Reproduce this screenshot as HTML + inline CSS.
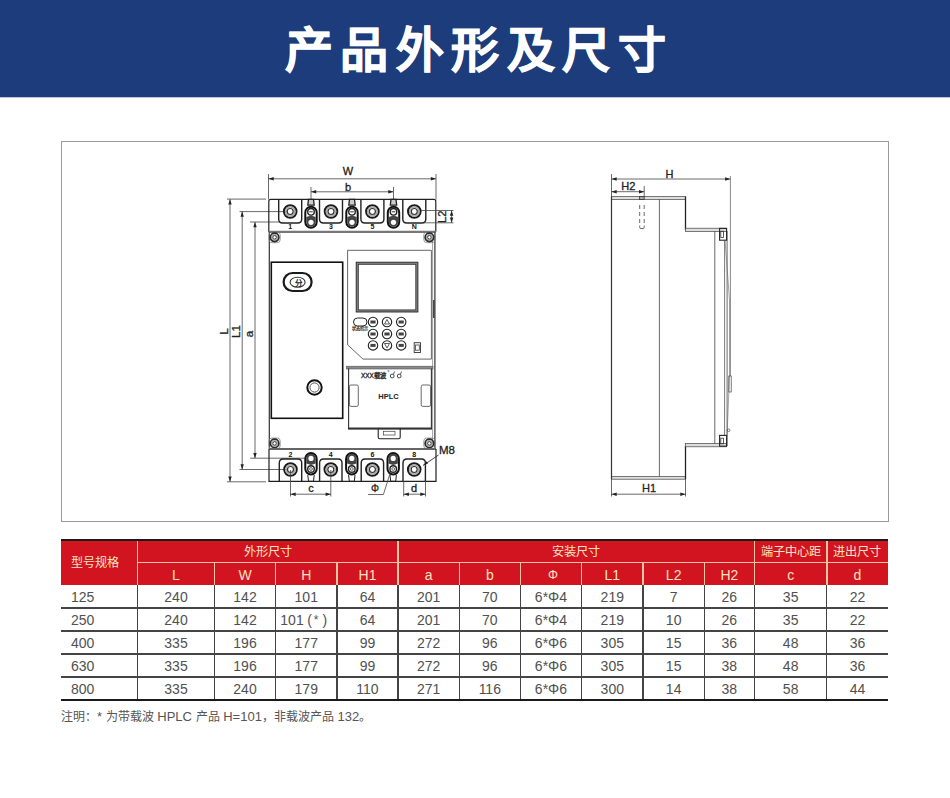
<!DOCTYPE html>
<html lang="zh-CN"><head><meta charset="utf-8"><title>产品外形及尺寸</title>
<style>
html,body{margin:0;padding:0;background:#fff;}
body{width:950px;height:798px;position:relative;overflow:hidden;font-family:"Liberation Sans",sans-serif;}
#hdr{position:absolute;left:0;top:0;width:950px;height:97px;background:#1d3c7b;box-shadow:0 1px 0 rgba(29,60,123,0.3);}
#ttl{position:absolute;left:0;top:2px;width:950px;height:97px;line-height:97px;text-align:center;color:#fff;font-size:48px;font-weight:bold;letter-spacing:7.5px;text-indent:8px;-webkit-text-stroke:0.8px #fff;}
#box{position:absolute;left:61px;top:141px;width:826px;height:379px;border:1px solid #9a9a9a;}
#drw{position:absolute;left:0;top:0;}
.red{position:absolute;background:#d1141f;}
.ht,.hs,.bc{position:absolute;display:flex;align-items:center;justify-content:center;white-space:nowrap;}
.ht{color:#fbe3c2;font-size:12.2px;}
.hs{color:#fbe3c2;font-size:14px;padding-top:1.5px;box-sizing:border-box;}
.ht0{justify-content:flex-start;padding-left:10px;box-sizing:border-box;font-size:12.2px;padding-bottom:1px;}
.bc{color:#505050;font-size:14px;}
.b0{justify-content:flex-start;padding-left:10px;box-sizing:border-box;}
.hl{position:absolute;background:#f5c4a4;}
.bl{position:absolute;background:#444;}
.bk{position:absolute;background:#1a1a1a;}
#note{position:absolute;left:61px;top:707px;font-size:12px;color:#555;white-space:nowrap;}
#note span{font-size:13px;}
</style></head><body>
<div id="hdr"></div><div id="ttl">产品外形及尺寸</div>
<div id="box"></div>
<svg id="drw" width="950" height="798" viewBox="0 0 950 798" font-family="Liberation Sans, sans-serif">
<line x1="268.5" y1="178.8" x2="436" y2="178.8" stroke="#444" stroke-width="0.8"/>
<path d="M268.5 178.8 L273.7 177.10000000000002 L273.7 180.5 Z" fill="#222" stroke="none"/>
<path d="M436 178.8 L430.8 177.10000000000002 L430.8 180.5 Z" fill="#222" stroke="none"/>
<line x1="268.5" y1="174" x2="268.5" y2="199.5" stroke="#444" stroke-width="0.8"/>
<line x1="436" y1="174" x2="436" y2="199.5" stroke="#444" stroke-width="0.8"/>
<text x="348" y="175" font-size="11" text-anchor="middle" font-weight="normal" fill="#222" stroke="#222" stroke-width="0.3">W</text>
<line x1="311" y1="191.8" x2="393.5" y2="191.8" stroke="#444" stroke-width="0.8"/>
<path d="M311 191.8 L316.2 190.10000000000002 L316.2 193.5 Z" fill="#222" stroke="none"/>
<path d="M393.5 191.8 L388.3 190.10000000000002 L388.3 193.5 Z" fill="#222" stroke="none"/>
<line x1="311" y1="187" x2="311" y2="205" stroke="#444" stroke-width="0.8"/>
<line x1="393.5" y1="187" x2="393.5" y2="205" stroke="#444" stroke-width="0.8"/>
<text x="348" y="190.5" font-size="11" text-anchor="middle" font-weight="normal" fill="#222" stroke="#222" stroke-width="0.3">b</text>
<line x1="230" y1="199.3" x2="230" y2="481.8" stroke="#444" stroke-width="0.8"/>
<path d="M230 199.3 L228.3 204.5 L231.7 204.5 Z" fill="#222" stroke="none"/>
<path d="M230 481.8 L228.3 476.6 L231.7 476.6 Z" fill="#222" stroke="none"/>
<line x1="227" y1="199.1" x2="266" y2="199.1" stroke="#444" stroke-width="0.8"/>
<line x1="227" y1="481.8" x2="266" y2="481.8" stroke="#444" stroke-width="0.8"/>
<line x1="242.2" y1="211.5" x2="242.2" y2="469.5" stroke="#444" stroke-width="0.8"/>
<path d="M242.2 211.5 L240.5 216.7 L243.89999999999998 216.7 Z" fill="#222" stroke="none"/>
<path d="M242.2 469.5 L240.5 464.3 L243.89999999999998 464.3 Z" fill="#222" stroke="none"/>
<line x1="239.5" y1="211.6" x2="288" y2="211.6" stroke="#444" stroke-width="0.8"/>
<line x1="239.5" y1="469.5" x2="290" y2="469.5" stroke="#444" stroke-width="0.8"/>
<line x1="255" y1="222" x2="255" y2="458.2" stroke="#444" stroke-width="0.8"/>
<path d="M255 222 L253.3 227.2 L256.7 227.2 Z" fill="#222" stroke="none"/>
<path d="M255 458.2 L253.3 453.0 L256.7 453.0 Z" fill="#222" stroke="none"/>
<line x1="250" y1="222" x2="280" y2="222" stroke="#444" stroke-width="0.8"/>
<line x1="250" y1="458.2" x2="306" y2="458.2" stroke="#444" stroke-width="0.8"/>
<text x="228.3" y="331.5" font-size="11.5" text-anchor="middle" font-weight="normal" fill="#222" stroke="#222" stroke-width="0.3" transform="rotate(-90 228.3 331.5)">L</text>
<text x="240" y="331.5" font-size="11.5" text-anchor="middle" font-weight="normal" fill="#222" stroke="#222" stroke-width="0.3" transform="rotate(-90 240 331.5)">L1</text>
<text x="253.2" y="334" font-size="11.5" text-anchor="middle" font-weight="normal" fill="#222" stroke="#222" stroke-width="0.3" transform="rotate(-90 253.2 334)">a</text>
<path d="M268.8 231.8 L268.8 201.4 Q268.8 199.4 270.8 199.4 L433.8 199.4 Q435.8 199.4 435.8 201.4 L435.8 231.8" stroke="#222" stroke-width="1.2" fill="none"/>
<line x1="268.8" y1="231.8" x2="435.8" y2="231.8" stroke="#777" stroke-width="2.2"/>
<path d="M278.7 199.4 L278.7 219 Q278.7 223 282.7 223 L297.7 223 Q301.7 223 301.7 219 L301.7 199.4" stroke="#222" stroke-width="1.4" fill="none"/>
<circle cx="290.2" cy="211.5" r="6.3" stroke="#1a1a1a" stroke-width="2.0" fill="none"/>
<circle cx="290.2" cy="211.5" r="4.6" stroke="#a8a8a8" stroke-width="1.6" fill="none"/>
<circle cx="290.2" cy="211.5" r="3.0" stroke="#333" stroke-width="1.2" fill="#fff"/>
<path d="M319.5 199.4 L319.5 219 Q319.5 223 323.5 223 L338.5 223 Q342.5 223 342.5 219 L342.5 199.4" stroke="#222" stroke-width="1.4" fill="none"/>
<circle cx="331" cy="211.5" r="6.3" stroke="#1a1a1a" stroke-width="2.0" fill="none"/>
<circle cx="331" cy="211.5" r="4.6" stroke="#a8a8a8" stroke-width="1.6" fill="none"/>
<circle cx="331" cy="211.5" r="3.0" stroke="#333" stroke-width="1.2" fill="#fff"/>
<path d="M360.9 199.4 L360.9 219 Q360.9 223 364.9 223 L379.9 223 Q383.9 223 383.9 219 L383.9 199.4" stroke="#222" stroke-width="1.4" fill="none"/>
<circle cx="372.4" cy="211.5" r="6.3" stroke="#1a1a1a" stroke-width="2.0" fill="none"/>
<circle cx="372.4" cy="211.5" r="4.6" stroke="#a8a8a8" stroke-width="1.6" fill="none"/>
<circle cx="372.4" cy="211.5" r="3.0" stroke="#333" stroke-width="1.2" fill="#fff"/>
<path d="M402.8 199.4 L402.8 219 Q402.8 223 406.8 223 L421.8 223 Q425.8 223 425.8 219 L425.8 199.4" stroke="#222" stroke-width="1.4" fill="none"/>
<circle cx="414.3" cy="211.5" r="6.3" stroke="#1a1a1a" stroke-width="2.0" fill="none"/>
<circle cx="414.3" cy="211.5" r="4.6" stroke="#a8a8a8" stroke-width="1.6" fill="none"/>
<circle cx="414.3" cy="211.5" r="3.0" stroke="#333" stroke-width="1.2" fill="#fff"/>
<rect x="305.3" y="206.7" width="11.40" height="21.10" rx="5.7" stroke="#111" stroke-width="2.0" fill="none"/>
<path d="M306.3 217 L311 215.5 L315.7 217 L315.7 222.1 A4.7 4.7 0 0 1 306.3 222.1 Z" stroke="none" stroke-width="0" fill="#444"/>
<circle cx="311" cy="211.8" r="3.3" stroke="#222" stroke-width="1.4" fill="#fff"/>
<line x1="309.2" y1="211.8" x2="312.8" y2="211.8" stroke="#333" stroke-width="1"/>
<circle cx="311" cy="222.3" r="2.6" stroke="none" stroke-width="0" fill="#fff"/>
<path d="M307.8 205.2 L308.5 199.4 L313.5 199.4 L314.2 205.2 Z" stroke="#222" stroke-width="1.3" fill="#ccc"/>
<rect x="346.3" y="206.7" width="11.40" height="21.10" rx="5.7" stroke="#111" stroke-width="2.0" fill="none"/>
<path d="M347.3 217 L352 215.5 L356.7 217 L356.7 222.1 A4.7 4.7 0 0 1 347.3 222.1 Z" stroke="none" stroke-width="0" fill="#444"/>
<circle cx="352" cy="211.8" r="3.3" stroke="#222" stroke-width="1.4" fill="#fff"/>
<line x1="350.2" y1="211.8" x2="353.8" y2="211.8" stroke="#333" stroke-width="1"/>
<circle cx="352" cy="222.3" r="2.6" stroke="none" stroke-width="0" fill="#fff"/>
<path d="M348.8 205.2 L349.5 199.4 L354.5 199.4 L355.2 205.2 Z" stroke="#222" stroke-width="1.3" fill="#ccc"/>
<rect x="387.8" y="206.7" width="11.40" height="21.10" rx="5.7" stroke="#111" stroke-width="2.0" fill="none"/>
<path d="M388.8 217 L393.5 215.5 L398.2 217 L398.2 222.1 A4.7 4.7 0 0 1 388.8 222.1 Z" stroke="none" stroke-width="0" fill="#444"/>
<circle cx="393.5" cy="211.8" r="3.3" stroke="#222" stroke-width="1.4" fill="#fff"/>
<line x1="391.7" y1="211.8" x2="395.3" y2="211.8" stroke="#333" stroke-width="1"/>
<circle cx="393.5" cy="222.3" r="2.6" stroke="none" stroke-width="0" fill="#fff"/>
<path d="M390.3 205.2 L391.0 199.4 L396.0 199.4 L396.7 205.2 Z" stroke="#222" stroke-width="1.3" fill="#ccc"/>
<text x="290.2" y="229.2" font-size="7" text-anchor="middle" font-weight="bold" fill="#111" stroke="none">1</text>
<text x="331" y="229.2" font-size="7" text-anchor="middle" font-weight="bold" fill="#111" stroke="none">3</text>
<text x="372.4" y="229.2" font-size="7" text-anchor="middle" font-weight="bold" fill="#111" stroke="none">5</text>
<text x="414.3" y="229.2" font-size="7" text-anchor="middle" font-weight="bold" fill="#111" stroke="none">N</text>
<line x1="421" y1="210.5" x2="453.5" y2="210.5" stroke="#444" stroke-width="0.8"/>
<line x1="424" y1="222.8" x2="453.5" y2="222.8" stroke="#444" stroke-width="0.8"/>
<line x1="451.6" y1="210.5" x2="451.6" y2="222.8" stroke="#444" stroke-width="0.8"/>
<path d="M451.6 210.5 L449.90000000000003 215.7 L453.3 215.7 Z" fill="#222" stroke="none"/>
<path d="M451.6 222.8 L449.90000000000003 217.60000000000002 L453.3 217.60000000000002 Z" fill="#222" stroke="none"/>
<text x="446.3" y="216.8" font-size="11" text-anchor="middle" font-weight="normal" fill="#222" stroke="#222" stroke-width="0.3" transform="rotate(-90 446.3 216.8)">L2</text>
<line x1="269.3" y1="231.8" x2="269.3" y2="449" stroke="#333" stroke-width="1.2"/>
<line x1="434.9" y1="231.8" x2="434.9" y2="449" stroke="#333" stroke-width="1.2"/>
<line x1="432.6" y1="238" x2="432.6" y2="444" stroke="#777" stroke-width="0.7"/>
<line x1="433.8" y1="300" x2="433.8" y2="318" stroke="#333" stroke-width="1.4"/>
<rect x="269.0" y="231.9" width="11.20" height="10.80" rx="3" stroke="#777" stroke-width="0.7" fill="none"/>
<circle cx="274.6" cy="237.3" r="4.2" stroke="#2a2a2a" stroke-width="1.8" fill="none"/>
<circle cx="274.6" cy="237.3" r="2.9" stroke="#999" stroke-width="1.0" fill="none"/>
<circle cx="274.6" cy="237.3" r="1.8" stroke="#333" stroke-width="1.0" fill="none"/>
<rect x="423.79999999999995" y="231.9" width="11.20" height="10.80" rx="3" stroke="#777" stroke-width="0.7" fill="none"/>
<circle cx="429.4" cy="237.3" r="4.2" stroke="#2a2a2a" stroke-width="1.8" fill="none"/>
<circle cx="429.4" cy="237.3" r="2.9" stroke="#999" stroke-width="1.0" fill="none"/>
<circle cx="429.4" cy="237.3" r="1.8" stroke="#333" stroke-width="1.0" fill="none"/>
<rect x="269.0" y="438.0" width="11.20" height="10.80" rx="3" stroke="#777" stroke-width="0.7" fill="none"/>
<circle cx="274.6" cy="443.4" r="4.2" stroke="#2a2a2a" stroke-width="1.8" fill="none"/>
<circle cx="274.6" cy="443.4" r="2.9" stroke="#999" stroke-width="1.0" fill="none"/>
<circle cx="274.6" cy="443.4" r="1.8" stroke="#333" stroke-width="1.0" fill="none"/>
<rect x="423.79999999999995" y="438.0" width="11.20" height="10.80" rx="3" stroke="#777" stroke-width="0.7" fill="none"/>
<circle cx="429.4" cy="443.4" r="4.2" stroke="#2a2a2a" stroke-width="1.8" fill="none"/>
<circle cx="429.4" cy="443.4" r="2.9" stroke="#999" stroke-width="1.0" fill="none"/>
<circle cx="429.4" cy="443.4" r="1.8" stroke="#333" stroke-width="1.0" fill="none"/>
<rect x="271.3" y="262.2" width="71.40" height="156.10" rx="0" stroke="#111" stroke-width="1.6" fill="none"/>
<rect x="283.6" y="273" width="28.00" height="18.00" rx="9" stroke="#1a1a1a" stroke-width="2.2" fill="none"/>
<ellipse cx="297.6" cy="282.2" rx="7.5" ry="5" stroke="#333" stroke-width="1.1" fill="none"/>
<text x="298" y="285.5" font-size="7.5" text-anchor="middle" font-weight="bold" fill="#222" stroke="none">分</text>
<circle cx="314.5" cy="387.5" r="7.2" stroke="#111" stroke-width="2.0" fill="none"/>
<circle cx="314.5" cy="387.5" r="4.6" stroke="#555" stroke-width="1.0" fill="none"/>
<path d="M347.6 250.3 L431.4 250.3 L431.4 359.1 L363 359.1 L347.6 344.8 Z" stroke="#555" stroke-width="0.9" fill="none"/>
<rect x="357.2" y="263.2" width="59.70" height="47.80" rx="0" stroke="#888" stroke-width="2.0" fill="none"/>
<rect x="356.2" y="262.2" width="61.70" height="49.80" rx="0" stroke="#222" stroke-width="0.9" fill="none"/>
<rect x="358.3" y="264.3" width="57.50" height="45.60" rx="0" stroke="#333" stroke-width="0.9" fill="none"/>
<rect x="353.5" y="318" width="13.50" height="8.00" rx="4" stroke="#222" stroke-width="1.0" fill="none"/>
<text x="360.2" y="330.3" font-size="4.2" text-anchor="middle" font-weight="bold" fill="#222" stroke="none">状态指示</text>
<circle cx="373" cy="322" r="4.7" stroke="#222" stroke-width="1.1" fill="none"/>
<circle cx="387" cy="322" r="4.7" stroke="#222" stroke-width="1.1" fill="none"/>
<circle cx="401.2" cy="322" r="4.7" stroke="#222" stroke-width="1.1" fill="none"/>
<circle cx="373" cy="334" r="4.7" stroke="#222" stroke-width="1.1" fill="none"/>
<circle cx="387" cy="334" r="4.7" stroke="#222" stroke-width="1.1" fill="none"/>
<circle cx="401.2" cy="334" r="4.7" stroke="#222" stroke-width="1.1" fill="none"/>
<circle cx="373" cy="345.4" r="4.7" stroke="#222" stroke-width="1.1" fill="none"/>
<circle cx="387" cy="345.4" r="4.7" stroke="#222" stroke-width="1.1" fill="none"/>
<circle cx="401.2" cy="345.4" r="4.7" stroke="#222" stroke-width="1.1" fill="none"/>
<rect x="370.4" y="320.5" width="5.20" height="3.00" rx="0" stroke="none" stroke-width="0" fill="#444"/>
<rect x="398.59999999999997" y="320.5" width="5.20" height="3.00" rx="0" stroke="none" stroke-width="0" fill="#444"/>
<rect x="370.4" y="332.5" width="5.20" height="3.00" rx="0" stroke="none" stroke-width="0" fill="#444"/>
<rect x="384.4" y="332.5" width="5.20" height="3.00" rx="0" stroke="none" stroke-width="0" fill="#444"/>
<rect x="398.59999999999997" y="332.5" width="5.20" height="3.00" rx="0" stroke="none" stroke-width="0" fill="#444"/>
<rect x="370.4" y="343.9" width="5.20" height="3.00" rx="0" stroke="none" stroke-width="0" fill="#444"/>
<rect x="398.59999999999997" y="343.9" width="5.20" height="3.00" rx="0" stroke="none" stroke-width="0" fill="#444"/>
<path d="M384.5 324 L387 319.5 L389.5 324 Z" stroke="#333" stroke-width="0.8" fill="none"/>
<path d="M384.5 343.5 L387 348 L389.5 343.5 Z" stroke="#333" stroke-width="0.8" fill="none"/>
<rect x="414.2" y="342.7" width="6.30" height="9.80" rx="0" stroke="#333" stroke-width="0.9" fill="none"/>
<rect x="415.4" y="345" width="3.90" height="5.20" rx="0" stroke="#444" stroke-width="0.8" fill="none"/>
<rect x="346.5" y="366.2" width="86.50" height="2.80" rx="0" stroke="#555" stroke-width="0.6" fill="#8a8a8a"/>
<path d="M348.6 368.6 L348.6 428.8 L431.4 428.8 L431.4 368.6" stroke="#333" stroke-width="1.1" fill="none"/>
<line x1="348" y1="428.5" x2="432" y2="428.5" stroke="#333" stroke-width="2"/>
<text x="361" y="378.2" font-size="6.4" text-anchor="start" fill="#222" stroke="#222" stroke-width="0.3">XXX载波</text>
<text x="387.2" y="373.5" font-size="6" text-anchor="start" font-weight="normal" fill="#222" stroke="none">°</text>
<circle cx="392.2" cy="376" r="1.9" stroke="#333" stroke-width="0.9" fill="none"/>
<line x1="393.4" y1="374.5" x2="394.5" y2="371.5" stroke="#333" stroke-width="0.8"/>
<circle cx="399.2" cy="376" r="1.9" stroke="#333" stroke-width="0.9" fill="none"/>
<line x1="400.4" y1="374.5" x2="401.5" y2="371.5" stroke="#333" stroke-width="0.8"/>
<text x="388.5" y="398.5" font-size="7.5" text-anchor="middle" font-weight="bold" fill="#222" stroke="none">HPLC</text>
<rect x="349.4" y="385" width="8.90" height="21.40" rx="1.5" stroke="#444" stroke-width="0.8" fill="none"/>
<rect x="421.2" y="385" width="9.40" height="21.40" rx="1.5" stroke="#444" stroke-width="0.8" fill="none"/>
<path d="M378.2 428.8 L378.2 437.2 Q378.2 438.7 379.7 438.7 L398.7 438.7 Q400.2 438.7 400.2 437.2 L400.2 428.8" stroke="#222" stroke-width="1.1" fill="none"/>
<rect x="383.5" y="431.3" width="11.50" height="3.70" rx="0" stroke="#444" stroke-width="0.7" fill="none"/>
<line x1="269" y1="449" x2="436" y2="449" stroke="#666" stroke-width="1.8"/>
<path d="M269 449 L269 481.3 L436 481.3 L436 449" stroke="#222" stroke-width="1.2" fill="none"/>
<path d="M279.3 481.3 L279.3 463 Q279.3 459 283.3 459 L297.7 459 Q301.7 459 301.7 463 L301.7 481.3" stroke="#222" stroke-width="1.4" fill="none"/>
<circle cx="290.5" cy="469.5" r="6.3" stroke="#1a1a1a" stroke-width="2.0" fill="none"/>
<circle cx="290.5" cy="469.5" r="4.6" stroke="#a8a8a8" stroke-width="1.6" fill="none"/>
<circle cx="290.5" cy="469.5" r="3.0" stroke="#333" stroke-width="1.2" fill="#fff"/>
<path d="M319.6 481.3 L319.6 463 Q319.6 459 323.6 459 L338.0 459 Q342.0 459 342.0 463 L342.0 481.3" stroke="#222" stroke-width="1.4" fill="none"/>
<circle cx="330.8" cy="469.5" r="6.3" stroke="#1a1a1a" stroke-width="2.0" fill="none"/>
<circle cx="330.8" cy="469.5" r="4.6" stroke="#a8a8a8" stroke-width="1.6" fill="none"/>
<circle cx="330.8" cy="469.5" r="3.0" stroke="#333" stroke-width="1.2" fill="#fff"/>
<path d="M361.2 481.3 L361.2 463 Q361.2 459 365.2 459 L379.59999999999997 459 Q383.59999999999997 459 383.59999999999997 463 L383.59999999999997 481.3" stroke="#222" stroke-width="1.4" fill="none"/>
<circle cx="372.4" cy="469.5" r="6.3" stroke="#1a1a1a" stroke-width="2.0" fill="none"/>
<circle cx="372.4" cy="469.5" r="4.6" stroke="#a8a8a8" stroke-width="1.6" fill="none"/>
<circle cx="372.4" cy="469.5" r="3.0" stroke="#333" stroke-width="1.2" fill="#fff"/>
<path d="M403.0 481.3 L403.0 463 Q403.0 459 407.0 459 L421.4 459 Q425.4 459 425.4 463 L425.4 481.3" stroke="#222" stroke-width="1.4" fill="none"/>
<circle cx="414.2" cy="469.5" r="6.3" stroke="#1a1a1a" stroke-width="2.0" fill="none"/>
<circle cx="414.2" cy="469.5" r="4.6" stroke="#a8a8a8" stroke-width="1.6" fill="none"/>
<circle cx="414.2" cy="469.5" r="3.0" stroke="#333" stroke-width="1.2" fill="#fff"/>
<rect x="305.3" y="453" width="11.40" height="21.50" rx="5.7" stroke="#111" stroke-width="2.0" fill="none"/>
<path d="M306.3 463.5 L311 465 L315.7 463.5 L315.7 458.5 A4.7 4.7 0 0 0 306.3 458.5 Z" stroke="none" stroke-width="0" fill="#444"/>
<circle cx="311" cy="458.4" r="2.6" stroke="none" stroke-width="0" fill="#fff"/>
<circle cx="311" cy="469" r="3.3" stroke="#222" stroke-width="1.4" fill="#fff"/>
<circle cx="311" cy="469" r="1.4" stroke="#444" stroke-width="0.8" fill="none"/>
<path d="M307.8 475 L308.5 481.3 L313.5 481.3 L314.2 475" stroke="#222" stroke-width="1" fill="none"/>
<rect x="346.1" y="453" width="11.40" height="21.50" rx="5.7" stroke="#111" stroke-width="2.0" fill="none"/>
<path d="M347.1 463.5 L351.8 465 L356.5 463.5 L356.5 458.5 A4.7 4.7 0 0 0 347.1 458.5 Z" stroke="none" stroke-width="0" fill="#444"/>
<circle cx="351.8" cy="458.4" r="2.6" stroke="none" stroke-width="0" fill="#fff"/>
<circle cx="351.8" cy="469" r="3.3" stroke="#222" stroke-width="1.4" fill="#fff"/>
<circle cx="351.8" cy="469" r="1.4" stroke="#444" stroke-width="0.8" fill="none"/>
<path d="M348.6 475 L349.3 481.3 L354.3 481.3 L355.0 475" stroke="#222" stroke-width="1" fill="none"/>
<rect x="387.5" y="453" width="11.40" height="21.50" rx="5.7" stroke="#111" stroke-width="2.0" fill="none"/>
<path d="M388.5 463.5 L393.2 465 L397.9 463.5 L397.9 458.5 A4.7 4.7 0 0 0 388.5 458.5 Z" stroke="none" stroke-width="0" fill="#444"/>
<circle cx="393.2" cy="458.4" r="2.6" stroke="none" stroke-width="0" fill="#fff"/>
<circle cx="393.2" cy="469" r="3.3" stroke="#222" stroke-width="1.4" fill="#fff"/>
<circle cx="393.2" cy="469" r="1.4" stroke="#444" stroke-width="0.8" fill="none"/>
<path d="M390.0 475 L390.7 481.3 L395.7 481.3 L396.4 475" stroke="#222" stroke-width="1" fill="none"/>
<text x="290.5" y="457" font-size="7" text-anchor="middle" font-weight="bold" fill="#111" stroke="none">2</text>
<text x="330.8" y="457" font-size="7" text-anchor="middle" font-weight="bold" fill="#111" stroke="none">4</text>
<text x="372.4" y="457" font-size="7" text-anchor="middle" font-weight="bold" fill="#111" stroke="none">6</text>
<text x="414.2" y="457" font-size="7" text-anchor="middle" font-weight="bold" fill="#111" stroke="none">8</text>
<line x1="290.5" y1="494.2" x2="330.8" y2="494.2" stroke="#444" stroke-width="0.8"/>
<path d="M290.5 494.2 L295.7 492.5 L295.7 495.9 Z" fill="#222" stroke="none"/>
<path d="M330.8 494.2 L325.6 492.5 L325.6 495.9 Z" fill="#222" stroke="none"/>
<line x1="290.5" y1="470" x2="290.5" y2="496.5" stroke="#444" stroke-width="0.8"/>
<line x1="330.8" y1="470" x2="330.8" y2="496.5" stroke="#444" stroke-width="0.8"/>
<text x="311" y="492" font-size="11" text-anchor="middle" font-weight="normal" fill="#222" stroke="#222" stroke-width="0.3">c</text>
<line x1="403.7" y1="494.2" x2="425.5" y2="494.2" stroke="#444" stroke-width="0.8"/>
<path d="M403.7 494.2 L408.9 492.5 L408.9 495.9 Z" fill="#222" stroke="none"/>
<path d="M425.5 494.2 L420.3 492.5 L420.3 495.9 Z" fill="#222" stroke="none"/>
<line x1="403.7" y1="481" x2="403.7" y2="496.5" stroke="#444" stroke-width="0.8"/>
<line x1="425.5" y1="481" x2="425.5" y2="496.5" stroke="#444" stroke-width="0.8"/>
<text x="414" y="491.5" font-size="11" text-anchor="middle" font-weight="normal" fill="#222" stroke="#222" stroke-width="0.3">d</text>
<line x1="368" y1="494.5" x2="383.4" y2="494.5" stroke="#444" stroke-width="0.8"/>
<line x1="383.4" y1="494.5" x2="390.5" y2="472" stroke="#444" stroke-width="0.8"/>
<text x="375" y="492" font-size="10" text-anchor="middle" font-weight="normal" fill="#222" stroke="#222" stroke-width="0.3">Φ</text>
<line x1="438.5" y1="455" x2="423" y2="465.5" stroke="#333" stroke-width="0.9"/>
<path d="M423 465.5 L426.5 461.2 L428 463.5 Z" fill="#222"/>
<text x="447" y="454" font-size="11.5" text-anchor="middle" font-weight="normal" fill="#222" stroke="#222" stroke-width="0.3">M8</text>
<line x1="611.5" y1="179" x2="730.3" y2="179" stroke="#444" stroke-width="0.8"/>
<path d="M611.5 179 L616.7 177.3 L616.7 180.7 Z" fill="#222" stroke="none"/>
<path d="M730.3 179 L725.0999999999999 177.3 L725.0999999999999 180.7 Z" fill="#222" stroke="none"/>
<line x1="611.5" y1="174" x2="611.5" y2="197" stroke="#444" stroke-width="0.8"/>
<line x1="730.4" y1="176" x2="730.4" y2="376" stroke="#555" stroke-width="0.7"/>
<text x="669.5" y="178" font-size="11" text-anchor="middle" font-weight="normal" fill="#222" stroke="#222" stroke-width="0.3">H</text>
<line x1="611.5" y1="191.7" x2="644.2" y2="191.7" stroke="#444" stroke-width="0.8"/>
<path d="M611.5 191.7 L616.7 190.0 L616.7 193.39999999999998 Z" fill="#222" stroke="none"/>
<path d="M644.2 191.7 L639.0 190.0 L639.0 193.39999999999998 Z" fill="#222" stroke="none"/>
<line x1="644.2" y1="186" x2="644.2" y2="197" stroke="#444" stroke-width="0.8"/>
<text x="628.4" y="189.6" font-size="11" text-anchor="middle" font-weight="normal" fill="#222" stroke="#222" stroke-width="0.3">H2</text>
<rect x="611.5" y="196.6" width="74.00" height="2.80" rx="0" stroke="#444" stroke-width="0.7" fill="#ddd"/>
<rect x="611.5" y="476.4" width="74.00" height="2.80" rx="0" stroke="#444" stroke-width="0.7" fill="#ddd"/>
<line x1="611.5" y1="196.6" x2="611.5" y2="479.2" stroke="#333" stroke-width="1.2"/>
<line x1="659.4" y1="199.4" x2="659.4" y2="476.4" stroke="#444" stroke-width="0.8"/>
<line x1="685.5" y1="196.6" x2="685.5" y2="230.2" stroke="#222" stroke-width="1.3"/>
<line x1="685.5" y1="445.8" x2="685.5" y2="479.2" stroke="#222" stroke-width="1.3"/>
<rect x="685.5" y="228.2" width="41.10" height="3.20" rx="0" stroke="#444" stroke-width="0.7" fill="#ddd"/>
<rect x="685.5" y="443.6" width="41.10" height="3.20" rx="0" stroke="#444" stroke-width="0.7" fill="#ddd"/>
<line x1="714.8" y1="231.4" x2="714.8" y2="443.6" stroke="#444" stroke-width="0.8"/>
<line x1="724.6" y1="240" x2="724.6" y2="436" stroke="#555" stroke-width="0.8"/>
<line x1="727.1" y1="231" x2="727.1" y2="446" stroke="#444" stroke-width="0.8"/>
<rect x="719.6" y="228.4" width="7.00" height="11.80" rx="0" stroke="#222" stroke-width="1.1" fill="none"/>
<rect x="720.8" y="231.2" width="2.70" height="6.30" rx="0" stroke="#333" stroke-width="0.8" fill="none"/>
<rect x="719.6" y="435.4" width="7.00" height="10.80" rx="0" stroke="#222" stroke-width="1.1" fill="none"/>
<rect x="720.8" y="438.2" width="2.70" height="5.60" rx="0" stroke="#333" stroke-width="0.8" fill="none"/>
<path d="M725 240 L729.5 300 L729.5 376 L727 436" stroke="#666" stroke-width="0.6" fill="none"/>
<rect x="728.8" y="376" width="2.40" height="16.00" rx="0" stroke="#444" stroke-width="0.7" fill="none"/>
<circle cx="728.6" cy="430.3" r="1.3" stroke="#444" stroke-width="0.7" fill="none"/>
<rect x="639.5" y="196.4" width="4.70" height="3.20" rx="0" stroke="#333" stroke-width="0.8" fill="#aaa"/>
<line x1="639.7" y1="205" x2="639.7" y2="209" stroke="#444" stroke-width="0.8"/>
<line x1="644.2" y1="205" x2="644.2" y2="209" stroke="#444" stroke-width="0.8"/>
<line x1="639.7" y1="212" x2="639.7" y2="216" stroke="#444" stroke-width="0.8"/>
<line x1="644.2" y1="212" x2="644.2" y2="216" stroke="#444" stroke-width="0.8"/>
<line x1="639.7" y1="219" x2="639.7" y2="223" stroke="#444" stroke-width="0.8"/>
<line x1="644.2" y1="219" x2="644.2" y2="223" stroke="#444" stroke-width="0.8"/>
<path d="M639.7 225.5 L639.7 227.5 Q639.7 228.5 641 228.5 L643 228.5 Q644.2 228.5 644.2 227.5 L644.2 225.5" stroke="#444" stroke-width="0.8" fill="none"/>
<line x1="611.5" y1="494.2" x2="685.5" y2="494.2" stroke="#444" stroke-width="0.8"/>
<path d="M611.5 494.2 L616.7 492.5 L616.7 495.9 Z" fill="#222" stroke="none"/>
<path d="M685.5 494.2 L680.3 492.5 L680.3 495.9 Z" fill="#222" stroke="none"/>
<line x1="611.5" y1="479" x2="611.5" y2="496.5" stroke="#444" stroke-width="0.8"/>
<line x1="685.5" y1="479" x2="685.5" y2="496.5" stroke="#444" stroke-width="0.8"/>
<text x="649" y="491.5" font-size="11" text-anchor="middle" font-weight="normal" fill="#222" stroke="#222" stroke-width="0.3">H1</text>
</svg>
<div class="red" style="left:61px;top:540px;width:827px;height:45px"></div>
<div class="ht" style="left:137.5px;top:540.0px;width:260.5px;height:22.5px">外形尺寸</div>
<div class="ht" style="left:398.0px;top:540.0px;width:356.4px;height:22.5px">安装尺寸</div>
<div class="ht" style="left:754.4px;top:540.0px;width:72.5px;height:22.5px">端子中心距</div>
<div class="ht" style="left:826.9px;top:540.0px;width:61.1px;height:22.5px">进出尺寸</div>
<div class="ht ht0" style="left:61.0px;top:540.0px;width:76.5px;height:45.0px">型号规格</div>
<div class="hs" style="left:137.5px;top:562.5px;width:77.0px;height:22.5px">L</div>
<div class="hs" style="left:214.5px;top:562.5px;width:61.0px;height:22.5px">W</div>
<div class="hs" style="left:275.5px;top:562.5px;width:61.5px;height:22.5px">H</div>
<div class="hs" style="left:337.0px;top:562.5px;width:61.0px;height:22.5px">H1</div>
<div class="hs" style="left:398.0px;top:562.5px;width:61.3px;height:22.5px">a</div>
<div class="hs" style="left:459.3px;top:562.5px;width:61.0px;height:22.5px">b</div>
<div class="hs" style="left:520.3px;top:562.5px;width:61.3px;height:22.5px"><span style="font-size:12.5px;position:relative;left:2px">Φ</span></div>
<div class="hs" style="left:581.6px;top:562.5px;width:61.4px;height:22.5px">L1</div>
<div class="hs" style="left:643.0px;top:562.5px;width:61.3px;height:22.5px">L2</div>
<div class="hs" style="left:704.3px;top:562.5px;width:50.1px;height:22.5px">H2</div>
<div class="hs" style="left:754.4px;top:562.5px;width:72.5px;height:22.5px">c</div>
<div class="hs" style="left:826.9px;top:562.5px;width:61.1px;height:22.5px">d</div>
<div class="hl" style="left:137.5px;top:561.8px;width:750.5px;height:1.3px"></div>
<div class="hl" style="left:136.9px;top:540px;width:1.3px;height:45.0px"></div>
<div class="hl" style="left:213.9px;top:562.5px;width:1.3px;height:22.5px"></div>
<div class="hl" style="left:274.9px;top:562.5px;width:1.3px;height:22.5px"></div>
<div class="hl" style="left:336.4px;top:562.5px;width:1.3px;height:22.5px"></div>
<div class="hl" style="left:397.4px;top:540px;width:1.3px;height:45.0px"></div>
<div class="hl" style="left:458.7px;top:562.5px;width:1.3px;height:22.5px"></div>
<div class="hl" style="left:519.7px;top:562.5px;width:1.3px;height:22.5px"></div>
<div class="hl" style="left:581.0px;top:562.5px;width:1.3px;height:22.5px"></div>
<div class="hl" style="left:642.4px;top:562.5px;width:1.3px;height:22.5px"></div>
<div class="hl" style="left:703.7px;top:562.5px;width:1.3px;height:22.5px"></div>
<div class="hl" style="left:753.8px;top:540px;width:1.3px;height:45.0px"></div>
<div class="hl" style="left:826.3px;top:540px;width:1.3px;height:45.0px"></div>
<div class="bc b0" style="left:61.0px;top:585.0px;width:76.5px;height:23.0px">125</div>
<div class="bc" style="left:137.5px;top:585.0px;width:77.0px;height:23.0px">240</div>
<div class="bc" style="left:214.5px;top:585.0px;width:61.0px;height:23.0px">142</div>
<div class="bc" style="left:275.5px;top:585.0px;width:61.5px;height:23.0px">101</div>
<div class="bc" style="left:337.0px;top:585.0px;width:61.0px;height:23.0px">64</div>
<div class="bc" style="left:398.0px;top:585.0px;width:61.3px;height:23.0px">201</div>
<div class="bc" style="left:459.3px;top:585.0px;width:61.0px;height:23.0px">70</div>
<div class="bc" style="left:520.3px;top:585.0px;width:61.3px;height:23.0px">6*Φ4</div>
<div class="bc" style="left:581.6px;top:585.0px;width:61.4px;height:23.0px">219</div>
<div class="bc" style="left:643.0px;top:585.0px;width:61.3px;height:23.0px">7</div>
<div class="bc" style="left:704.3px;top:585.0px;width:50.1px;height:23.0px">26</div>
<div class="bc" style="left:754.4px;top:585.0px;width:72.5px;height:23.0px">35</div>
<div class="bc" style="left:826.9px;top:585.0px;width:61.1px;height:23.0px">22</div>
<div class="bc b0" style="left:61.0px;top:608.0px;width:76.5px;height:23.0px">250</div>
<div class="bc" style="left:137.5px;top:608.0px;width:77.0px;height:23.0px">240</div>
<div class="bc" style="left:214.5px;top:608.0px;width:61.0px;height:23.0px">142</div>
<div class="bc" style="left:275.5px;top:608.0px;width:61.5px;height:23.0px"><span style="position:relative;left:-2.5px">101<span style="margin-left:3.5px">(</span><span style="margin-left:2px;font-size:12px;position:relative;top:-1px">*</span><span style="margin-left:4px">)</span></span></div>
<div class="bc" style="left:337.0px;top:608.0px;width:61.0px;height:23.0px">64</div>
<div class="bc" style="left:398.0px;top:608.0px;width:61.3px;height:23.0px">201</div>
<div class="bc" style="left:459.3px;top:608.0px;width:61.0px;height:23.0px">70</div>
<div class="bc" style="left:520.3px;top:608.0px;width:61.3px;height:23.0px">6*Φ4</div>
<div class="bc" style="left:581.6px;top:608.0px;width:61.4px;height:23.0px">219</div>
<div class="bc" style="left:643.0px;top:608.0px;width:61.3px;height:23.0px">10</div>
<div class="bc" style="left:704.3px;top:608.0px;width:50.1px;height:23.0px">26</div>
<div class="bc" style="left:754.4px;top:608.0px;width:72.5px;height:23.0px">35</div>
<div class="bc" style="left:826.9px;top:608.0px;width:61.1px;height:23.0px">22</div>
<div class="bc b0" style="left:61.0px;top:631.0px;width:76.5px;height:23.0px">400</div>
<div class="bc" style="left:137.5px;top:631.0px;width:77.0px;height:23.0px">335</div>
<div class="bc" style="left:214.5px;top:631.0px;width:61.0px;height:23.0px">196</div>
<div class="bc" style="left:275.5px;top:631.0px;width:61.5px;height:23.0px">177</div>
<div class="bc" style="left:337.0px;top:631.0px;width:61.0px;height:23.0px">99</div>
<div class="bc" style="left:398.0px;top:631.0px;width:61.3px;height:23.0px">272</div>
<div class="bc" style="left:459.3px;top:631.0px;width:61.0px;height:23.0px">96</div>
<div class="bc" style="left:520.3px;top:631.0px;width:61.3px;height:23.0px">6*Φ6</div>
<div class="bc" style="left:581.6px;top:631.0px;width:61.4px;height:23.0px">305</div>
<div class="bc" style="left:643.0px;top:631.0px;width:61.3px;height:23.0px">15</div>
<div class="bc" style="left:704.3px;top:631.0px;width:50.1px;height:23.0px">36</div>
<div class="bc" style="left:754.4px;top:631.0px;width:72.5px;height:23.0px">48</div>
<div class="bc" style="left:826.9px;top:631.0px;width:61.1px;height:23.0px">36</div>
<div class="bc b0" style="left:61.0px;top:654.0px;width:76.5px;height:23.0px">630</div>
<div class="bc" style="left:137.5px;top:654.0px;width:77.0px;height:23.0px">335</div>
<div class="bc" style="left:214.5px;top:654.0px;width:61.0px;height:23.0px">196</div>
<div class="bc" style="left:275.5px;top:654.0px;width:61.5px;height:23.0px">177</div>
<div class="bc" style="left:337.0px;top:654.0px;width:61.0px;height:23.0px">99</div>
<div class="bc" style="left:398.0px;top:654.0px;width:61.3px;height:23.0px">272</div>
<div class="bc" style="left:459.3px;top:654.0px;width:61.0px;height:23.0px">96</div>
<div class="bc" style="left:520.3px;top:654.0px;width:61.3px;height:23.0px">6*Φ6</div>
<div class="bc" style="left:581.6px;top:654.0px;width:61.4px;height:23.0px">305</div>
<div class="bc" style="left:643.0px;top:654.0px;width:61.3px;height:23.0px">15</div>
<div class="bc" style="left:704.3px;top:654.0px;width:50.1px;height:23.0px">38</div>
<div class="bc" style="left:754.4px;top:654.0px;width:72.5px;height:23.0px">48</div>
<div class="bc" style="left:826.9px;top:654.0px;width:61.1px;height:23.0px">36</div>
<div class="bc b0" style="left:61.0px;top:677.0px;width:76.5px;height:23.0px">800</div>
<div class="bc" style="left:137.5px;top:677.0px;width:77.0px;height:23.0px">335</div>
<div class="bc" style="left:214.5px;top:677.0px;width:61.0px;height:23.0px">240</div>
<div class="bc" style="left:275.5px;top:677.0px;width:61.5px;height:23.0px">179</div>
<div class="bc" style="left:337.0px;top:677.0px;width:61.0px;height:23.0px">110</div>
<div class="bc" style="left:398.0px;top:677.0px;width:61.3px;height:23.0px">271</div>
<div class="bc" style="left:459.3px;top:677.0px;width:61.0px;height:23.0px">116</div>
<div class="bc" style="left:520.3px;top:677.0px;width:61.3px;height:23.0px">6*Φ6</div>
<div class="bc" style="left:581.6px;top:677.0px;width:61.4px;height:23.0px">300</div>
<div class="bc" style="left:643.0px;top:677.0px;width:61.3px;height:23.0px">14</div>
<div class="bc" style="left:704.3px;top:677.0px;width:50.1px;height:23.0px">38</div>
<div class="bc" style="left:754.4px;top:677.0px;width:72.5px;height:23.0px">58</div>
<div class="bc" style="left:826.9px;top:677.0px;width:61.1px;height:23.0px">44</div>
<div class="bl" style="left:61px;top:607.40px;width:827px;height:1.2px"></div>
<div class="bl" style="left:61px;top:630.40px;width:827px;height:1.2px"></div>
<div class="bl" style="left:61px;top:653.40px;width:827px;height:1.2px"></div>
<div class="bl" style="left:61px;top:676.40px;width:827px;height:1.2px"></div>
<div class="bl" style="left:136.90px;top:585px;width:1.2px;height:115px"></div>
<div class="bl" style="left:213.90px;top:585px;width:1.2px;height:115px"></div>
<div class="bl" style="left:274.90px;top:585px;width:1.2px;height:115px"></div>
<div class="bl" style="left:336.40px;top:585px;width:1.2px;height:115px"></div>
<div class="bl" style="left:397.40px;top:585px;width:1.2px;height:115px"></div>
<div class="bl" style="left:458.70px;top:585px;width:1.2px;height:115px"></div>
<div class="bl" style="left:519.70px;top:585px;width:1.2px;height:115px"></div>
<div class="bl" style="left:581.00px;top:585px;width:1.2px;height:115px"></div>
<div class="bl" style="left:642.40px;top:585px;width:1.2px;height:115px"></div>
<div class="bl" style="left:703.70px;top:585px;width:1.2px;height:115px"></div>
<div class="bl" style="left:753.80px;top:585px;width:1.2px;height:115px"></div>
<div class="bl" style="left:826.30px;top:585px;width:1.2px;height:115px"></div>
<div class="bk" style="left:61px;top:538.5px;width:827px;height:2px"></div>
<div class="bk" style="left:61px;top:698.5px;width:827px;height:2px"></div><div id="note">注明：<span>* </span>为带载波<span> HPLC </span>产品<span> H=101</span>，非载波产品<span> 132</span>。</div>
</body></html>
